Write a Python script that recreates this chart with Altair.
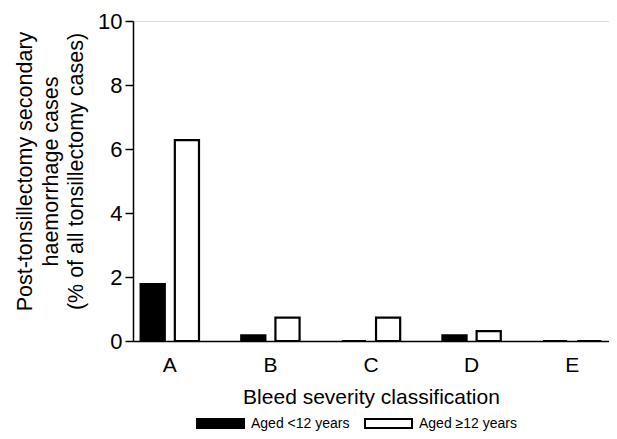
import altair as alt
import pandas as pd

categories = ["A", "B", "C", "D", "E"]
groups = ["Aged <12 years", "Aged ≥12 years"]
under12 = [1.78, 0.18, 0.0, 0.18, 0.0]
over12 = [6.28, 0.73, 0.73, 0.31, 0.0]
y_ticks = [0, 2, 4, 6, 8, 10]

rows = []
for c, a, b in zip(categories, under12, over12):
    rows.append({"cat": c, "group": groups[0], "value": a})
    rows.append({"cat": c, "group": groups[1], "value": b})
df = pd.DataFrame(rows)

FONT = "Liberation Sans"

bars = alt.Chart(df).mark_bar(stroke="black", strokeWidth=2.2, strokeJoin="miter").encode(
    x=alt.X("cat:N", sort=categories,
            scale=alt.Scale(paddingInner=0.42, paddingOuter=0.076),
            axis=alt.Axis(title="Bleed severity classification", labelAngle=0,
                          ticks=False, labelPadding=13, titlePadding=11,
                          domainColor="black", domainWidth=1.5,
                          labelFontSize=21, titleFontSize=21,
                          labelColor="black", titleColor="black",
                          labelFont=FONT, titleFont=FONT, titleFontWeight="normal")),
    xOffset=alt.XOffset("group:N", sort=groups,
                        scale=alt.Scale(paddingInner=0.294, paddingOuter=0)),
    y=alt.Y("value:Q", scale=alt.Scale(domain=[0, 10], nice=False),
            axis=alt.Axis(values=y_ticks, format="d", grid=False,
                          title=["Post-tonsillectomy secondary", "haemorrhage cases",
                                 "(% of all tonsillectomy cases)"],
                          titlePadding=10, titleLineHeight=25.5, titleY=150,
                          tickSize=8, tickColor="black", tickWidth=1.5,
                          domainColor="black", domainWidth=1.5,
                          labelFontSize=22, titleFontSize=21.5,
                          labelColor="black", titleColor="black",
                          labelFont=FONT, titleFont=FONT, titleFontWeight="normal",
                          labelPadding=3)),
    fill=alt.Fill("group:N", sort=groups,
                  scale=alt.Scale(domain=groups, range=["black", "white"]),
                  legend=alt.Legend(title=None, orient="none", direction="horizontal",
                                    legendX=63, legendY=378,
                                    symbolType="M-1,-0.19H1V0.19H-1Z",
                                    symbolSize=2209, symbolStrokeColor="black",
                                    symbolStrokeWidth=2, symbolOpacity=1,
                                    labelFontSize=14, labelFont=FONT, labelColor="black",
                                    labelOffset=6, columnPadding=11)),
).properties(
    width=476, height=320,
    autosize=alt.AutoSizeParams(type="none"),
    padding={"left": 125, "top": 13, "right": 0, "bottom": 90},
).configure_view(stroke=None).configure(background="white")

chart = bars
chart.save("out.html", embed_options={"renderer": "svg", "actions": False})
